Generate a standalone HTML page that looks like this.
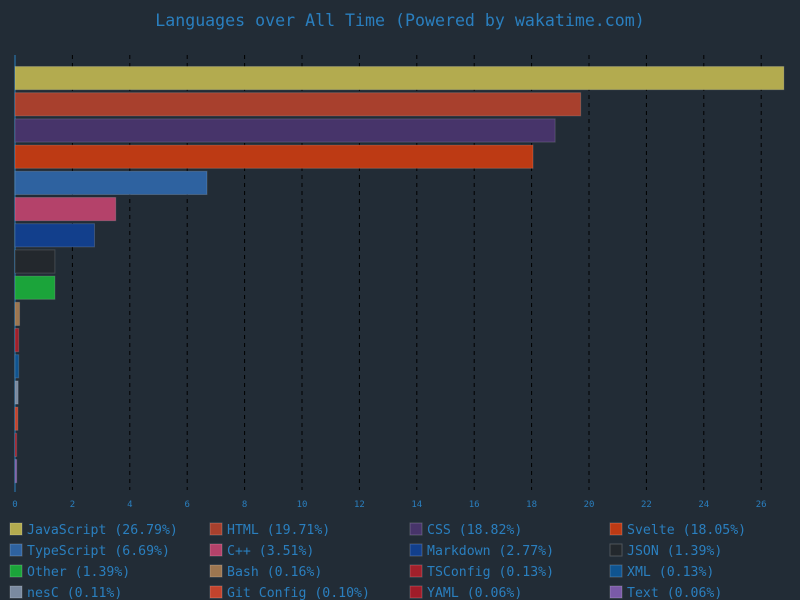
<!DOCTYPE html>
<html><head><meta charset="utf-8"><style>
html,body{margin:0;padding:0;background:#222c36;}
svg{display:block;font-family:"DejaVu Sans Mono","Liberation Mono",monospace;}
</style></head><body>
<svg id="c" width="800" height="600">
<text x="400" y="26" text-anchor="middle" fill="#2a7fbf" font-size="16.6">Languages over All Time (Powered by wakatime.com)</text>
</svg>
<script>
const languages=["JavaScript","HTML","CSS","Svelte","TypeScript","C++","Markdown","JSON","Other","Bash","TSConfig","XML","nesC","Git Config","YAML","Text"];
const percents=[26.79,19.71,18.82,18.05,6.69,3.51,2.77,1.39,1.39,0.16,0.13,0.13,0.11,0.10,0.06,0.06];
const colors=["#b3ab4f","#a8402d","#47346a","#bd3a14","#2e62a0","#b4426a","#123f8c","#23282d","#1ba43a","#9d7650","#a1202b","#0f5490","#7a8aa0","#c2432d","#a01c29","#7a5aa8"];
const ticks=[0,2,4,6,8,10,12,14,16,18,20,22,24,26];
const svg=document.getElementById('c');
const NS='http://www.w3.org/2000/svg';
const x0=15,pxPer=28.7,yTop=64,slot=26.2;
const xs=v=>x0+v*pxPer;
function mk(t,a){const e=document.createElementNS(NS,t);for(const k in a)e.setAttribute(k,a[k]);svg.appendChild(e);return e;}
ticks.forEach(t=>{
  if(t>0){const g=mk('line',{x1:xs(t),x2:xs(t),y1:55,y2:490,stroke:'#000','stroke-dasharray':'4,4','stroke-width':1});
  
  }
  const l=mk('text',{x:xs(t),y:507,'text-anchor':'middle',fill:'#2a7fbf','font-size':9});
  l.textContent=t;
  
  
});
const ax=mk('line',{x1:x0,x2:x0,y1:55,y2:492,stroke:'#2a7fbf','stroke-width':1});


languages.forEach((n,i)=>{
  const w=Math.max(xs(percents[i])-x0,1.5);
  const r=mk('rect',{x:x0,y:yTop+i*slot+2.5,width:w,height:slot-3,fill:colors[i],stroke:'rgba(255,255,255,0.15)','stroke-width':1});
  
  
  const col=i%4,row=Math.floor(i/4);
  const lx=10+col*200,ly=523+row*21;
  const s=mk('rect',{x:lx,y:ly,width:12,height:12,fill:colors[i],stroke:'rgba(255,255,255,0.2)'});
  
  
  const t=mk('text',{x:lx+17,y:ly+11,fill:'#2a7fbf','font-size':13.2});
  t.textContent=n+' ('+percents[i].toFixed(2)+'%)';
  
  
});
</script>
</body></html>
